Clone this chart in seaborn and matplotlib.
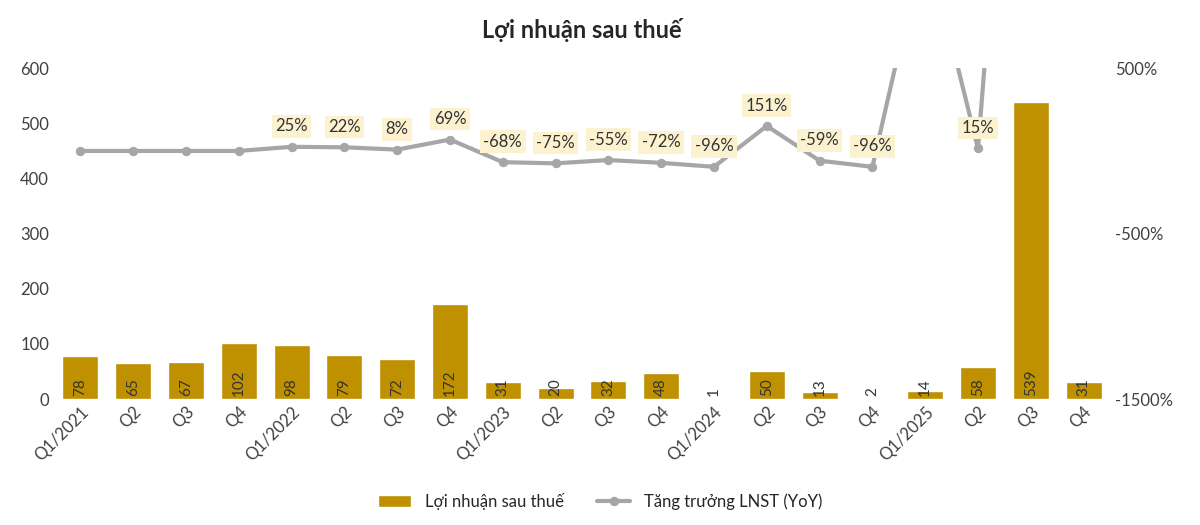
import matplotlib
matplotlib.use("Agg")
import matplotlib.pyplot as plt
import seaborn as sns
import numpy as np
import pandas as pd

quarters = ["Q1/2021", "Q2", "Q3", "Q4", "Q1/2022", "Q2", "Q3", "Q4",
            "Q1/2023", "Q2", "Q3", "Q4", "Q1/2024", "Q2", "Q3", "Q4",
            "Q1/2025", "Q2", "Q3", "Q4"]
profit = [78, 65, 67, 102, 98, 79, 72, 172, 31, 20, 32, 48, 1, 50, 13, 2, 14, 58, 539, 31]
growth = [0, 0, 0, 0, 25, 22, 8, 69, -68, -75, -55, -72, -96, 151, -59, -96, 1300, 15, 4046, 1450]
growth_labels = ["", "", "", "", "25%", "22%", "8%", "69%", "-68%", "-75%", "-55%", "-72%",
                 "-96%", "151%", "-59%", "-96%", "", "15%", "", ""]

sns.set_style("white")
plt.rcParams["font.family"] = ["Lato", "DejaVu Sans"]

bar_color = "#bf9000"
line_color = "#a6a6a6"

fig, ax = plt.subplots(figsize=(12, 5.25), dpi=100)
df = pd.DataFrame({"q": range(len(quarters)), "profit": profit})
sns.barplot(data=df, x="q", y="profit", color=bar_color, width=0.68, ax=ax,
            saturation=1, label="Lợi nhuận sau thuế")
ax.set_xlim(-0.5, len(quarters) - 0.5)
ax.set_ylim(0, 600)
ax.set_yticks(range(0, 601, 100))
ax.set_xticks(range(len(quarters)))
ax.set_xticklabels(quarters, rotation=45, ha="right", rotation_mode="anchor", fontsize=12)
ax.tick_params(axis="both", length=0, labelsize=12, colors="#404040")
ax.set_xlabel("")
ax.set_ylabel("")
for i, v in enumerate(profit):
    ax.text(i, 6, str(v), rotation=90, ha="center", va="bottom",
            fontsize=11, color="#333333")

ax2 = ax.twinx()
sns.lineplot(x=list(range(len(quarters))), y=growth, ax=ax2, color=line_color,
             linewidth=3, marker="o", markersize=6, markeredgecolor=line_color,
             label="Tăng trưởng LNST (YoY)", legend=False)
ax2.set_ylim(-1500, 500)
ax2.set_yticks([-1500, -500, 500])
ax2.set_yticklabels(["-1500%", "-500%", "500%"])
ax2.tick_params(axis="y", length=0, labelsize=12, colors="#404040")
for i, (g, lab) in enumerate(zip(growth, growth_labels)):
    if lab:
        ax2.text(i, g + 75, lab, ha="center", va="bottom", fontsize=12, color="#333333",
                 bbox=dict(boxstyle="square,pad=0.2", fc="#fdf2d0", ec="none"))

for a in (ax, ax2):
    for s in a.spines.values():
        s.set_visible(False)

h1, l1 = ax.get_legend_handles_labels()
h2, l2 = ax2.get_legend_handles_labels()
if ax.get_legend():
    ax.get_legend().remove()
fig.legend(h1 + h2, l1 + l2, loc="lower center", ncol=2, frameon=False, fontsize=12,
           bbox_to_anchor=(0.5, 0.0))

ax.set_title("Lợi nhuận sau thuế", fontsize=17, fontweight="bold", pad=22)
fig.subplots_adjust(left=0.045, right=0.925, top=0.87, bottom=0.24)
fig.savefig("out.png", dpi=100)
